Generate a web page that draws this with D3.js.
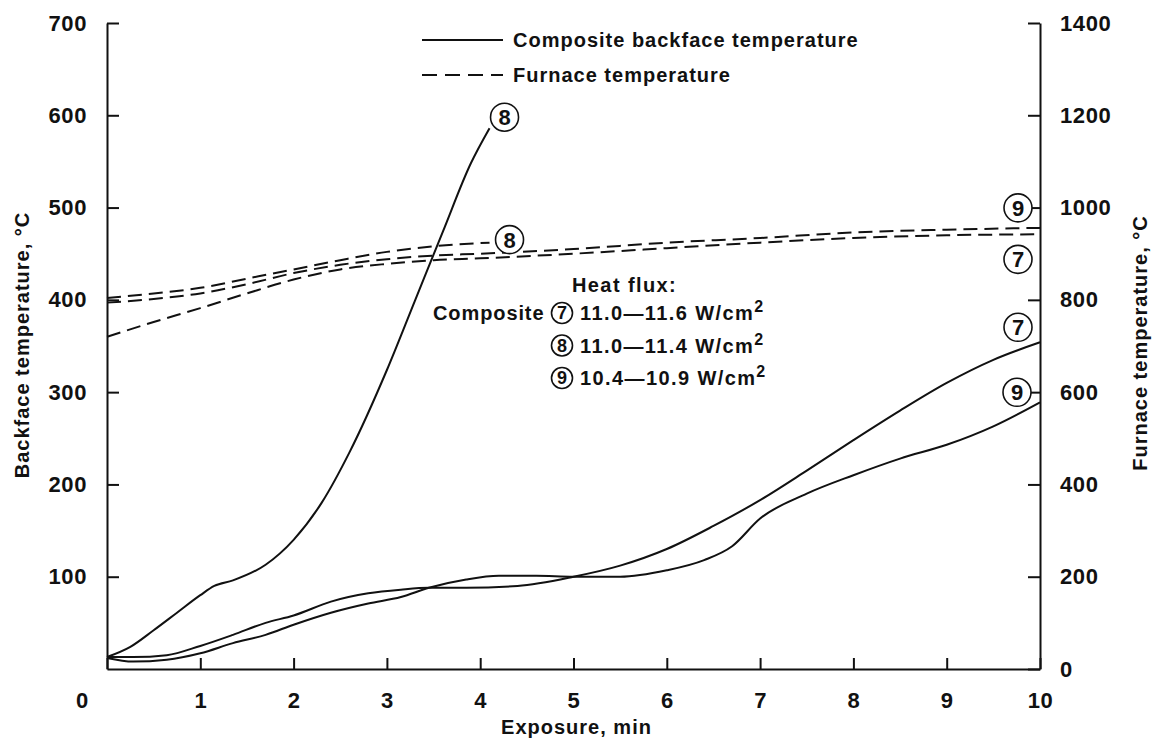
<!DOCTYPE html>
<html>
<head>
<meta charset="utf-8">
<script src="https://cdn.jsdelivr.net/npm/d3@7"></script>
<style>
  body { margin: 0; background: #fff; }
  svg text { font-family: "Liberation Sans", Arial, sans-serif; font-weight: bold; fill: #111; }
</style>
</head>
<body>
<div id="chart"></div>
<script>
// backface temperature, left axis (deg C)
const time7 = [0, 0.28, 0.64, 1, 1.35, 1.7, 2, 2.4, 2.8, 3.15, 3.45, 3.85, 4.4, 5, 5.5, 6, 6.5, 7, 7.5, 8, 8.5, 9, 9.5, 10];
const back7 = [13, 13, 15, 25, 37, 50, 58, 73, 82, 86, 88, 88, 90, 100, 112, 130, 155, 183, 215, 248, 280, 310, 335, 354];

const time8 = [0, 0.25, 0.5, 0.75, 1, 1.15, 1.35, 1.7, 2, 2.3, 2.6, 3, 3.3, 3.6, 3.9, 4.1];
const back8 = [13, 24, 42, 61, 80, 90, 96, 113, 140, 180, 235, 324, 399, 474, 548, 586];

const time9 = [0, 0.28, 0.64, 1, 1.35, 1.7, 2, 2.4, 2.8, 3.15, 3.45, 3.85, 4.2, 4.6, 5, 5.5, 6, 6.4, 6.7, 7, 7.5, 8, 8.5, 9, 9.5, 10];
const back9 = [12, 8, 10, 17, 28, 37, 48, 61, 71, 78, 88, 97, 101, 101, 100, 100, 107, 118, 133, 163, 190, 210, 228, 243, 263, 289];

// furnace temperature, right axis (deg C)
const furnTime8 = [0, 0.5, 1, 1.5, 2, 2.5, 3, 3.5, 4.1];
const furn8 = [804, 814, 826, 846, 866, 886, 904, 916, 924];
const furnTime = [0, 0.5, 1, 1.5, 2, 2.5, 3, 3.5, 4, 5, 6, 7, 8, 9, 10];
const furn9 = [794, 802, 814, 834, 858, 876, 888, 896, 900, 910, 924, 934, 946, 952, 956];
const furn7 = [720, 752, 782, 814, 844, 866, 878, 886, 890, 900, 912, 924, 934, 940, 942];

const xTicks = [0, 1, 2, 3, 4, 5, 6, 7, 8, 9, 10];
const leftTicks = [100, 200, 300, 400, 500, 600, 700];
const rightTicks = [0, 200, 400, 600, 800, 1000, 1200, 1400];

const fluxLabels = [
  { id: "7", text: "11.0\u201411.6 W/cm" },
  { id: "8", text: "11.0\u201411.4 W/cm" },
  { id: "9", text: "10.4\u201410.9 W/cm" },
];

const width = 1154, height = 745;
const margin = { top: 23, right: 114, bottom: 76, left: 107 };

const svg = d3.select("#chart").append("svg")
  .attr("width", width).attr("height", height);

const x = d3.scaleLinear().domain([0, 10]).range([margin.left, width - margin.right]);
const yL = d3.scaleLinear().domain([0, 700]).range([height - margin.bottom, margin.top]);
const yR = d3.scaleLinear().domain([0, 1400]).range([height - margin.bottom, margin.top]);

const zip = (ts, vs) => ts.map((t, i) => ({ t, v: vs[i] }));
const series = [
  { key: "b7", data: zip(time7, back7), y: yL, dash: null },
  { key: "b8", data: zip(time8, back8), y: yL, dash: null },
  { key: "b9", data: zip(time9, back9), y: yL, dash: null },
  { key: "f8", data: zip(furnTime8, furn8), y: yR, dash: "14,7" },
  { key: "f9", data: zip(furnTime, furn9), y: yR, dash: "14,7" },
  { key: "f7", data: zip(furnTime, furn7), y: yR, dash: "14,7" },
];

// axes
const styleAxis = (g) => g
  .call((g) => g.select(".domain").attr("stroke", "#111").attr("stroke-width", 2))
  .call((g) => g.selectAll(".tick line").attr("stroke", "#111").attr("stroke-width", 2))
  .call((g) => g.selectAll(".tick text").attr("font-size", 22).attr("fill", "#111")
    .style("font-family", '"Liberation Sans", Arial, sans-serif')
    .style("font-weight", "bold").style("letter-spacing", "0.6px"));

svg.append("g")
  .attr("transform", `translate(0,${height - margin.bottom})`)
  .call(d3.axisBottom(x).tickValues(xTicks).tickFormat(d3.format("d"))
    .tickSizeInner(-11).tickSizeOuter(0).tickPadding(23))
  .call(styleAxis)
  .call((g) => g.selectAll(".tick").filter((d) => d === 0).select("text").attr("x", -25));

svg.append("g")
  .attr("transform", `translate(${margin.left},0)`)
  .call(d3.axisLeft(yL).tickValues(leftTicks).tickFormat(d3.format("d"))
    .tickSizeInner(-12).tickSizeOuter(0).tickPadding(20))
  .call(styleAxis);

svg.append("g")
  .attr("transform", `translate(${width - margin.right},0)`)
  .call(d3.axisRight(yR).tickValues(rightTicks).tickFormat(d3.format("d"))
    .tickSizeInner(-12).tickSizeOuter(0).tickPadding(20))
  .call(styleAxis);

// axis titles
svg.append("text")
  .attr("x", x(5) + 3).attr("y", 734)
  .attr("text-anchor", "middle").attr("font-size", 20).attr("letter-spacing", 1)
  .text("Exposure, min");
svg.append("text")
  .attr("transform", "translate(29,345) rotate(-90)")
  .attr("text-anchor", "middle").attr("font-size", 20).attr("letter-spacing", 1)
  .text("Backface temperature, \u00B0C");
svg.append("text")
  .attr("transform", "translate(1147,343) rotate(-90)")
  .attr("text-anchor", "middle").attr("font-size", 20).attr("letter-spacing", 1)
  .text("Furnace temperature, \u00B0C");

// curves
svg.append("g")
  .selectAll("path")
  .data(series)
  .join("path")
  .attr("fill", "none")
  .attr("stroke", "#111")
  .attr("stroke-width", 2)
  .attr("stroke-dasharray", (d) => d.dash)
  .attr("d", (d) => d3.line().x((p) => x(p.t)).y((p) => d.y(p.v)).curve(d3.curveMonotoneX)(d.data));

// circled curve labels, placed relative to each curve's last point
const circled = (g, cx, cy, r, label, fs) => {
  g.append("circle").attr("cx", cx).attr("cy", cy).attr("r", r)
    .attr("fill", "#fff").attr("stroke", "#111").attr("stroke-width", 1.6);
  g.append("text").attr("x", cx).attr("y", cy).attr("dy", "0.36em")
    .attr("text-anchor", "middle").attr("letter-spacing", 0)
    .attr("font-size", fs).text(label);
};

const curveLabels = [
  { key: "b8", label: "8", dx: 15, dy: -11 },
  { key: "f8", label: "8", dx: 20, dy: -3 },
  { key: "f9", label: "9", dx: -22, dy: -20 },
  { key: "f7", label: "7", dx: -22, dy: 25 },
  { key: "b7", label: "7", dx: -22, dy: -15 },
  { key: "b9", label: "9", dx: -23, dy: -10 },
];
const gLabels = svg.append("g");
curveLabels.forEach((c) => {
  const s = series.find((d) => d.key === c.key);
  const last = s.data[s.data.length - 1];
  circled(gLabels, x(last.t) + c.dx, s.y(last.v) + c.dy, 14, c.label, 22);
});

// line style legend
const legend = svg.append("g");
[
  { y: 40, dash: null, text: "Composite backface temperature" },
  { y: 75, dash: "15,8", text: "Furnace temperature" },
].forEach((d) => {
  legend.append("line")
    .attr("x1", 422).attr("x2", 503).attr("y1", d.y).attr("y2", d.y)
    .attr("stroke", "#111").attr("stroke-width", 2)
    .attr("stroke-dasharray", d.dash);
  legend.append("text")
    .attr("x", 513).attr("y", d.y).attr("dy", "0.36em")
    .attr("font-size", 20).attr("letter-spacing", 1).text(d.text);
});

// heat flux legend
const flux = svg.append("g").attr("font-size", 20).attr("letter-spacing", 1.4);
flux.append("text").attr("x", 572).attr("y", 285).attr("dy", "0.36em").text("Heat flux:");
flux.append("text").attr("x", 433).attr("y", 313).attr("dy", "0.36em")
  .attr("letter-spacing", 0.9).text("Composite");
fluxLabels.forEach((d, i) => {
  const cy = 313 + i * 32.5;
  circled(flux, 562, cy, 10.5, d.id, 18);
  const t = flux.append("text").attr("x", 580).attr("y", cy).attr("dy", "0.36em");
  t.append("tspan").text(d.text);
  t.append("tspan").attr("dy", "-0.5em").attr("font-size", 16).text("2");
});
</script>
</body>
</html>
